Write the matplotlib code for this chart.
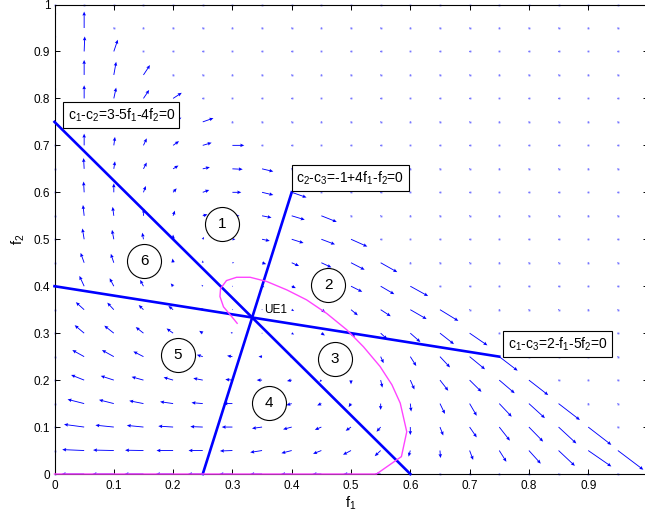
import numpy as np
import matplotlib
matplotlib.use("Agg")
import matplotlib.pyplot as plt

plt.rcParams['font.family'] = ['Liberation Sans', 'DejaVu Sans']
plt.rcParams['mathtext.fontset'] = 'custom'
plt.rcParams['mathtext.rm'] = 'Liberation Sans'
plt.rcParams['mathtext.it'] = 'Liberation Sans'

# grid of the vector field
f1_grid = [0, 0.05, 0.1, 0.15, 0.2, 0.25, 0.3, 0.35, 0.4, 0.45, 0.5,
           0.55, 0.6, 0.65, 0.7, 0.75, 0.8, 0.85, 0.9, 0.95, 1.0]
f2_grid = list(f1_grid)

# arrow components read row by row (f2 = 0, 0.05, ... 1), only inside f1+f2<=1
u_rows = [
    [0, -0.038, -0.036, -0.032, -0.029, -0.025, -0.022, -0.02, -0.018, -0.015, -0.013, -0.01, 0, 0, 0, 0, 0, 0, 0, 0, 0],
    [0, -0.037, -0.035, -0.031, -0.028, -0.024, -0.021, -0.02, -0.0174, -0.014, -0.0135, -0.01, -0.003, 0.001, 0.006, 0.012, 0.02, 0.0275, 0.039, 0.043],
    [0, -0.034, -0.031, -0.028, -0.025, -0.021, -0.018, -0.017, -0.0146, -0.011, -0.009, -0.007, 0.0, 0.0056, 0.012, 0.018, 0.024, 0.03, 0.039],
    [0, -0.028, -0.025, -0.024, -0.022, -0.019, -0.015, -0.012, -0.009, -0.007, -0.004, 0.0, 0.0015, 0.0084, 0.012, 0.021, 0.027, 0.036],
    [0, -0.022, -0.022, -0.02, -0.016, -0.016, -0.012, -0.009, -0.008, -0.003, 0.0, 0.003, 0.007, 0.014, 0.02, 0.026, 0.0326],
    [0, -0.02, -0.02, -0.017, -0.014, -0.01, -0.009, -0.006, -0.003, 0.0, 0.002, 0.005, 0.01, 0.017, 0.026, 0.031],
    [0, -0.016, -0.016, -0.013, -0.011, -0.006, -0.003, 0.001, 0.004, 0.006, 0.007, 0.011, 0.017, 0.0236, 0.03],
    [0, -0.014, -0.011, -0.008, -0.008, -0.004, -0.001, 0.001, 0.004, 0.007, 0.0115, 0.017, 0.0275, 0.031],
    [0, -0.008, -0.007, -0.0056, -0.004, -0.002, 0.001, 0.004, 0.007, 0.013, 0.019, 0.023, 0.03],
    [0, -0.006, -0.005, -0.003, -0.001, 0.0, 0.003, 0.007, 0.0124, 0.017, 0.023, 0.028],
    [0, -0.003, -0.003, -0.002, 0.0, 0.002, 0.005, 0.013, 0.02, 0.023, 0.0275],
    [0, -0.002, -0.002, 0.001, 0.003, 0.008, 0.012, 0.016, 0.022, 0.026],
    [0, -0.001, 0.0, 0.004, 0.006, 0.011, 0.015, 0.019, 0.025],
    [0, -0.001, 0.002, 0.0056, 0.009, 0.012, 0.0174, 0.019],
    [0, 0, 0.002, 0.0056, 0.01, 0.015, 0.02],
    [0, 0, 0.003, 0.007, 0.014, 0.018],
    [0, 0, 0.004, 0.0096, 0.0146],
    [0, 0, 0.004, 0.011],
    [0, 0.001, 0.0067],
    [0, 0],
    [0],
]
v_rows = [
    [0] * 21,
    [0, 0.002, 0.001, 0.0007, 0, 0, -0.001, -0.004, -0.0057, -0.007, -0.009, -0.012, -0.013, -0.016, -0.02, -0.024, -0.028, -0.0327, -0.034, -0.041],
    [0, 0.0057, 0.004, 0.0035, 0.002, 0.001, 0, -0.003, -0.005, -0.006, -0.008, -0.01, -0.017, -0.018, -0.022, -0.029, -0.031, -0.035, -0.038],
    [0, 0.009, 0.008, 0.006, 0.004, 0.002, 0, -0.002, -0.0035, -0.004, -0.0075, -0.0135, -0.017, -0.022, -0.026, -0.028, -0.031, -0.035],
    [0, 0.011, 0.009, 0.007, 0.006, 0.004, 0.0015, 0, -0.002, -0.004, -0.009, -0.016, -0.02, -0.0227, -0.025, -0.028, -0.032],
    [0, 0.014, 0.014, 0.011, 0.008, 0.004, 0.002, 0, -0.001, -0.005, -0.009, -0.014, -0.02, -0.023, -0.027, -0.03],
    [0, 0.017, 0.016, 0.013, 0.01, 0.005, 0.002, 0, -0.003, -0.005, -0.008, -0.013, -0.019, -0.0234, -0.026],
    [0, 0.016, 0.015, 0.01, 0.008, 0.003, 0, -0.001, -0.003, -0.006, -0.012, -0.014, -0.02, -0.024],
    [0, 0.022, 0.017, 0.0135, 0.006, 0.003, 0, -0.002, -0.004, -0.008, -0.012, -0.017, -0.021],
    [0, 0.021, 0.019, 0.014, 0.009, 0.005, 0, -0.003, -0.007, -0.01, -0.015, -0.02],
    [0, 0.023, 0.02, 0.014, 0.01, 0.005, 0, -0.0035, -0.008, -0.011, -0.0156],
    [0, 0.023, 0.019, 0.015, 0.011, 0.003, 0, -0.004, -0.0085, -0.013],
    [0, 0.023, 0.019, 0.0135, 0.0085, 0.005, 0, -0.0057, -0.011],
    [0, 0.023, 0.016, 0.0135, 0.007, 0.0035, -0.001, -0.0057],
    [0, 0.025, 0.018, 0.015, 0.009, 0.0057, 0],
    [0.025, 0.025, 0.02, 0.016, 0.009, 0.008],
    [0.028, 0.028, 0.023, 0.018, 0.012],
    [0.0355, 0.032, 0.028, 0.021],
    [0.039, 0.032, 0.025],
    [0.038, 0.035],
    [0],
]

# indifference lines (endpoints)
line12_f1 = [0, 0.6]
line12_f2 = [0.75, 0]
line23_f1 = [0.25, 0.4]
line23_f2 = [0, 0.6]
line13_f1 = [0, 0.75]
line13_f2 = [0.4, 0.25]

# magenta trajectory
traj_f1 = [0.308, 0.299, 0.285, 0.279, 0.280, 0.290, 0.307, 0.330, 0.358, 0.392, 0.425,
           0.459, 0.493, 0.521, 0.549, 0.569, 0.583, 0.594, 0.585, 0.577, 0.543, 0.0]
traj_f2 = [0.321, 0.335, 0.356, 0.378, 0.395, 0.412, 0.419, 0.419, 0.410, 0.392, 0.371,
           0.342, 0.307, 0.271, 0.229, 0.190, 0.151, 0.090, 0.037, 0.030, 0.0, 0.0]

region_labels = ['1', '2', '3', '4', '5', '6']
region_f1 = [0.282, 0.462, 0.473, 0.362, 0.208, 0.151]
region_f2 = [0.532, 0.403, 0.245, 0.151, 0.253, 0.454]

n = len(f1_grid)
U = np.zeros((n, n))
V = np.zeros((n, n))
for j, (ur, vr) in enumerate(zip(u_rows, v_rows)):
    U[j, :len(ur)] = ur
    V[j, :len(vr)] = vr
X, Y = np.meshgrid(f1_grid, f2_grid)
still = (U == 0) & (V == 0)

fig = plt.figure(figsize=(6.45, 5.19), dpi=100)
ax = fig.add_axes([0.0845, 0.0867, 0.9194, 0.9046])

ax.quiver(X, Y, U, V, angles='xy', scale_units='xy', scale=1, color='blue',
          width=0.0015, headwidth=4, headlength=4.5, headaxislength=4, zorder=1)
# zero-length arrows show up as dots
ax.plot(X[still], Y[still], 's', ms=1.3, mew=0, color='#7777ff', zorder=1, clip_on=False)

ax.plot(line12_f1, line12_f2, color='blue', lw=1.9, zorder=3, clip_on=False)
ax.plot(line23_f1, line23_f2, color='blue', lw=1.9, zorder=3, clip_on=False)
ax.plot(line13_f1, line13_f2, color='blue', lw=1.9, zorder=3, clip_on=False)
ax.plot(traj_f1, traj_f2, color='#ff44ff', lw=1.0, zorder=3, clip_on=False)

box = dict(boxstyle='square,pad=0.3', facecolor='white', edgecolor='black', lw=0.8)
ax.text(0.022, 0.764, 'c$_1$-c$_2$=3-5f$_1$-4f$_2$=0', fontsize=10, ha='left', va='center', bbox=box, zorder=5)
ax.text(0.408, 0.630, 'c$_2$-c$_3$=-1+4f$_1$-f$_2$=0', fontsize=10, ha='left', va='center', bbox=box, zorder=5)
ax.text(0.764, 0.277, 'c$_1$-c$_3$=2-f$_1$-5f$_2$=0', fontsize=10, ha='left', va='center', bbox=box, zorder=5)
ax.text(0.354, 0.349, 'UE1', fontsize=8.5, ha='left', va='center', zorder=5)

ax.plot(region_f1, region_f2, 'o', ms=24.5, mfc='white', mec='black', mew=0.8, zorder=4, linestyle='none')
for lab, x, y in zip(region_labels, region_f1, region_f2):
    ax.text(x, y, lab, fontsize=11, ha='center', va='center', zorder=5)

ax.set_xlim(0, 1)
ax.set_ylim(0, 1)
ticks = [0, 0.1, 0.2, 0.3, 0.4, 0.5, 0.6, 0.7, 0.8, 0.9, 1]
ax.set_xticks(ticks)
ax.set_xticklabels(['0', '0.1', '0.2', '0.3', '0.4', '0.5', '0.6', '0.7', '0.8', '0.9', ''])
ax.set_yticks(ticks)
ax.set_yticklabels(['0', '0.1', '0.2', '0.3', '0.4', '0.5', '0.6', '0.7', '0.8', '0.9', '1'])
ax.tick_params(direction='in', top=True, right=True, length=3.6, width=0.7, labelsize=8.5)
ax.tick_params(axis='x', pad=4)
ax.tick_params(axis='y', pad=3)
for s in ax.spines.values():
    s.set_linewidth(0.8)

ax.set_xlabel('f$_1$', fontsize=10.5, labelpad=2)
ax.set_ylabel('f$_2$', fontsize=10.5, labelpad=5)

fig.savefig('out.png', dpi=100)
